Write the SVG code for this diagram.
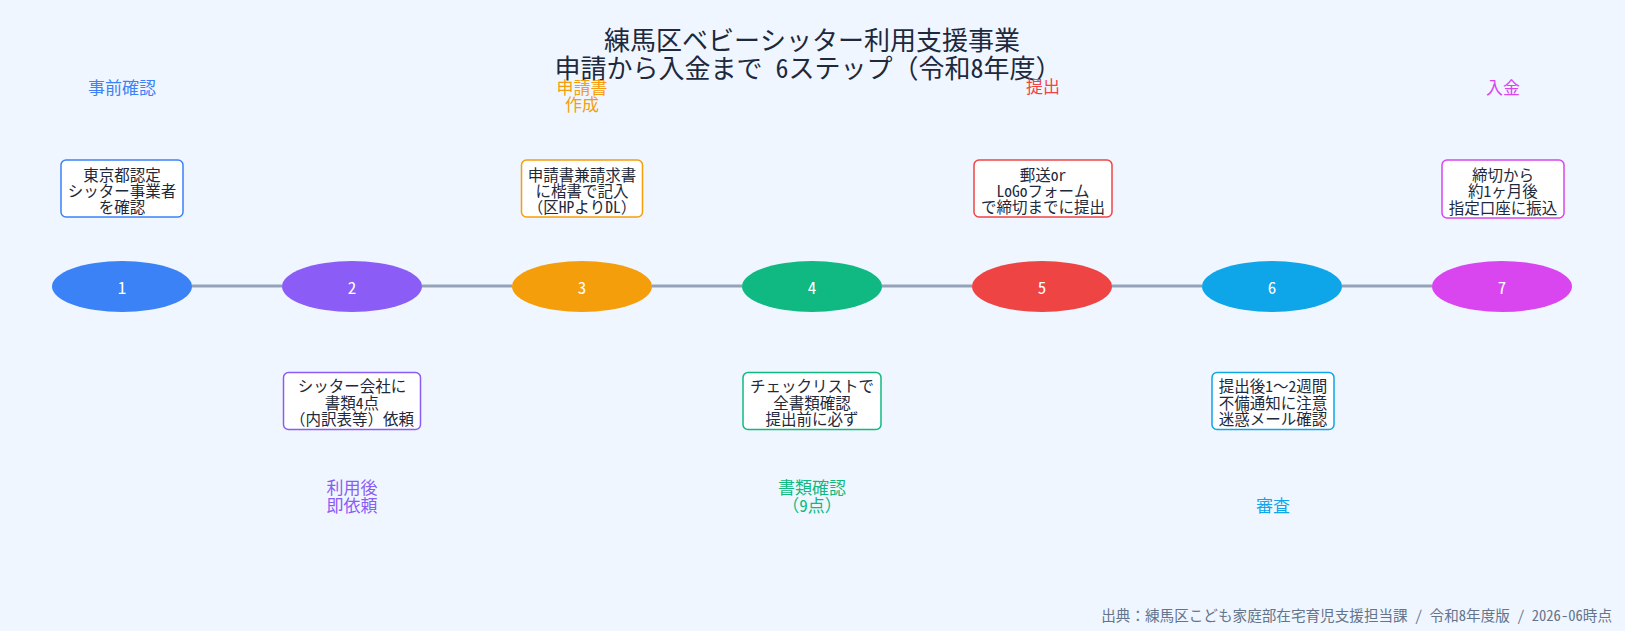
<svg xmlns="http://www.w3.org/2000/svg" width="1625" height="631" viewBox="0 0 1625 631">
<style>
text{font-family:"Noto Sans Mono CJK JP","Noto Sans CJK JP","DejaVu Sans Mono",monospace;}
.title{font-size:26px;fill:#1e293b;text-anchor:middle;dominant-baseline:central;}
.ph{font-size:17px;text-anchor:middle;dominant-baseline:central;}
.bx{font-size:15.5px;fill:#1e293b;text-anchor:middle;dominant-baseline:central;}
.num{font-size:17px;fill:#ffffff;text-anchor:middle;dominant-baseline:central;}
.card{fill:#ffffff;stroke-width:1.5;}
.conn{stroke:#94a3b8;stroke-width:3;}
.foot{font-size:14.6px;fill:#64748b;text-anchor:end;dominant-baseline:central;}
</style>
<rect x="0" y="0" width="1625" height="631" fill="#eff6ff"/>
<text class="title" x="812" y="38">練馬区ベビーシッター利用支援事業</text>
<text class="title" x="808" y="66">申請から入金まで 6ステップ（令和8年度）</text>
<g id="connectors">
<line class="conn" x1="192" y1="286" x2="282" y2="286"/>
<line class="conn" x1="422" y1="286" x2="512" y2="286"/>
<line class="conn" x1="652" y1="286" x2="742" y2="286"/>
<line class="conn" x1="882" y1="286" x2="972" y2="286"/>
<line class="conn" x1="1112" y1="286" x2="1202" y2="286"/>
<line class="conn" x1="1342" y1="286" x2="1432" y2="286"/>
</g>
<g id="step1">
<text class="ph" x="122" y="86" fill="#3b82f6">事前確認</text>
<rect class="card" x="61" y="160" width="122" height="57" rx="5" stroke="#3b82f6"/>
<text class="bx" x="122" y="173.5">東京都認定</text>
<text class="bx" x="122" y="189.7">シッター事業者</text>
<text class="bx" x="122" y="206">を確認</text>
<ellipse cx="122" cy="286.5" rx="70" ry="25.5" fill="#3b82f6"/>
<text class="num" x="122" y="286.5">1</text>
</g>
<g id="step2">
<ellipse cx="352" cy="286.5" rx="70" ry="25.5" fill="#8b5cf6"/>
<text class="num" x="352" y="286.5">2</text>
<rect class="card" x="283.5" y="372.5" width="137" height="57" rx="5" stroke="#8b5cf6"/>
<text class="bx" x="352" y="385">シッター会社に</text>
<text class="bx" x="352" y="401.5">書類4点</text>
<text class="bx" x="352" y="418">（内訳表等）依頼</text>
<text class="ph" x="352" y="486.5" fill="#8b5cf6">利用後</text>
<text class="ph" x="352" y="504" fill="#8b5cf6">即依頼</text>
</g>
<g id="step3">
<text class="ph" x="582" y="86" fill="#f59e0b">申請書</text>
<text class="ph" x="582" y="103.5" fill="#f59e0b">作成</text>
<rect class="card" x="521.5" y="160" width="121" height="57" rx="5" stroke="#f59e0b"/>
<text class="bx" x="582" y="173.5">申請書兼請求書</text>
<text class="bx" x="582" y="189.7">に楷書で記入</text>
<text class="bx" x="582" y="206">（区HPよりDL）</text>
<ellipse cx="582" cy="286.5" rx="70" ry="25.5" fill="#f59e0b"/>
<text class="num" x="582" y="286.5">3</text>
</g>
<g id="step4">
<ellipse cx="812" cy="286.5" rx="70" ry="25.5" fill="#10b981"/>
<text class="num" x="812" y="286.5">4</text>
<rect class="card" x="743" y="372.5" width="138" height="57" rx="5" stroke="#10b981"/>
<text class="bx" x="812" y="385">チェックリストで</text>
<text class="bx" x="812" y="401.5">全書類確認</text>
<text class="bx" x="812" y="418">提出前に必ず</text>
<text class="ph" x="812" y="486.5" fill="#10b981">書類確認</text>
<text class="ph" x="812" y="504" fill="#10b981">（9点）</text>
</g>
<g id="step5">
<text class="ph" x="1043" y="85" fill="#ef4444">提出</text>
<rect class="card" x="974" y="160" width="138" height="57" rx="5" stroke="#ef4444"/>
<text class="bx" x="1043" y="173.5">郵送or</text>
<text class="bx" x="1043" y="189.7">LoGoフォーム</text>
<text class="bx" x="1043" y="206">で締切までに提出</text>
<ellipse cx="1042" cy="286.5" rx="70" ry="25.5" fill="#ef4444"/>
<text class="num" x="1042" y="286.5">5</text>
</g>
<g id="step6">
<ellipse cx="1272" cy="286.5" rx="70" ry="25.5" fill="#0ea5e9"/>
<text class="num" x="1272" y="286.5">6</text>
<rect class="card" x="1212" y="372.5" width="122" height="57" rx="5" stroke="#0ea5e9"/>
<text class="bx" x="1273" y="385">提出後1～2週間</text>
<text class="bx" x="1273" y="401.5">不備通知に注意</text>
<text class="bx" x="1273" y="418">迷惑メール確認</text>
<text class="ph" x="1273" y="504" fill="#0ea5e9">審査</text>
</g>
<g id="step7">
<text class="ph" x="1503" y="86" fill="#d946ef">入金</text>
<rect class="card" x="1442" y="160" width="122" height="58" rx="5" stroke="#d946ef"/>
<text class="bx" x="1503" y="174">締切から</text>
<text class="bx" x="1503" y="190">約1ヶ月後</text>
<text class="bx" x="1503" y="206.5">指定口座に振込</text>
<ellipse cx="1502" cy="286.5" rx="70" ry="25.5" fill="#d946ef"/>
<text class="num" x="1502" y="286.5">7</text>
</g>
<text class="foot" x="1612" y="614">出典：練馬区こども家庭部在宅育児支援担当課 / 令和8年度版 / 2026-06時点</text>
</svg>
